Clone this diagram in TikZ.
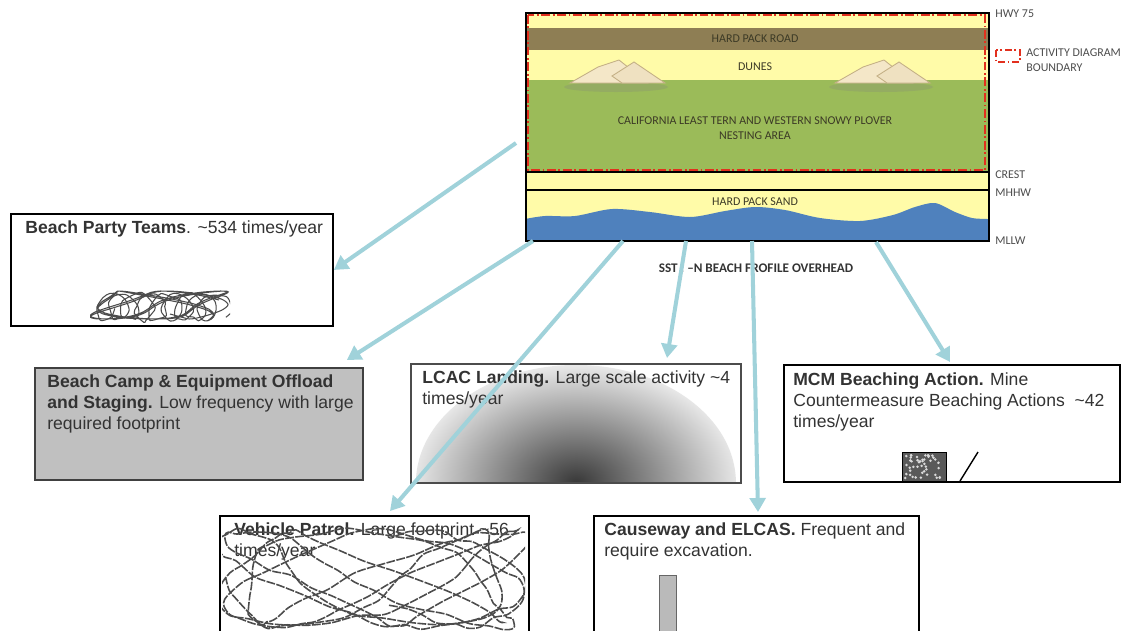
\documentclass[tikz,border=0pt]{standalone}
\usepackage{fontspec}
\setmainfont{Liberation Sans}
\newfontfamily\profilefont{Carlito}
\usetikzlibrary{arrows.meta}

\begin{document}
\begin{tikzpicture}[x=0.02cm, y=-0.02cm]
\definecolor{sandYellow}{RGB}{255, 251, 168}
			\definecolor{roadBrown}{RGB}{142, 126, 84}
			\definecolor{nestGreen}{RGB}{155, 187, 89}
			\definecolor{waterBlue}{RGB}{79, 129, 189}
			\definecolor{boundaryRed}{RGB}{226, 48, 30}
			\definecolor{arrowTeal}{RGB}{160, 210, 218}
			\definecolor{duneSand}{RGB}{244, 231, 200}
			\definecolor{duneEdge}{RGB}{196, 176, 134}
			\definecolor{profileText}{RGB}{60, 58, 38}
			\definecolor{campGray}{RGB}{192, 192, 192}
			\tikzstyle{actbox}=[rectangle, draw, line width=1.1pt, fill=white, anchor=north west, inner sep=0pt]
			\tikzstyle{acttext}=[anchor=north west, align=left, inner sep=0pt, text=black!80, font=\fontsize{10}{12}\selectfont]
			\tikzstyle{layertext}=[align=center, inner sep=0pt, text=profileText, font=\profilefont\fontsize{6.8}{8.5}\selectfont]
			\tikzstyle{sidetext}=[anchor=west, align=left, inner sep=0pt, text=black!70, font=\profilefont\fontsize{6.8}{8.5}\selectfont]
			\tikzstyle{scribble}=[black!70, line width=0.6pt]
			\tikzstyle{flow}=[-{Triangle[length=8pt, width=9pt]}, line width=2.3pt, color=arrowTeal]

			\useasboundingbox (0,0) rectangle (1125,630);
			\clip (0,0) rectangle (1125,630);
			\pgfmathsetseed{11}

			\fill[sandYellow] (525,12) rectangle (988,240);
			\fill[roadBrown] (525,28) rectangle (988,50);
			\fill[nestGreen] (525,80) rectangle (988,172);
			\foreach \dx in {0,265} {
				\fill[gray!40!nestGreen, opacity=0.6] (\dx+616,87) ellipse (52 and 5);
				\filldraw[fill=duneSand, draw=duneEdge, line width=0.5pt] (\dx+570,83) -- (\dx+598,67) -- (\dx+619,60) -- (\dx+648,83) -- cycle;
				\filldraw[fill=duneSand!90!duneEdge, draw=duneEdge, line width=0.5pt] (\dx+612,76) -- (\dx+634,62) -- (\dx+665,83) -- (\dx+622,83) -- cycle;
			}
			\fill[waterBlue] plot[smooth] coordinates {(525,219) (545,216) (575,216) (612,209) (650,212) (690,217) (725,211) (755,207) (785,210) (820,218) (860,221) (893,215) (915,207) (935,203) (955,212) (972,218) (988,219)} -- (988,240) -- (525,240) -- cycle;
			\draw[line width=0.8pt] (525,172) -- (988,172);
			\draw[line width=0.8pt] (525,190) -- (988,190);
			\draw[boundaryRed, line width=1.2pt, dash pattern=on 5pt off 1.5pt on 1pt off 1.5pt] (528,15) rectangle (985,170);
			\node[rectangle, draw, line width=1pt, anchor=north west, inner sep=0pt, minimum width=9.26cm, minimum height=4.56cm] (profile) at (525,12) {};

			\node[layertext] (road) at (755,39) {HARD PACK ROAD};
			\node[layertext] (dunes) at (755,67) {DUNES};
			\node[layertext] (nesting) at (755,128) {CALIFORNIA LEAST TERN AND WESTERN SNOWY PLOVER\\NESTING AREA};
			\node[layertext] (hardsand) at (755,202) {HARD PACK SAND};
			\node[sidetext] (hwy) at (995,14) {HWY 75};
			\draw[boundaryRed, line width=1pt, dash pattern=on 4pt off 1.5pt on 1pt off 1.5pt] (996,50) rectangle (1020,62);
			\node[sidetext] (legend) at (1026,60) {ACTIVITY DIAGRAM\\BOUNDARY};
			\node[sidetext] (crest) at (995,175) {CREST};
			\node[sidetext] (mhhw) at (995,193) {MHHW};
			\node[sidetext] (mllw) at (995,241) {MLLW};
			\node[layertext, text=black!80, font=\profilefont\bfseries\fontsize{7.5}{9}\selectfont] (caption) at (756,268) {SST : –N BEACH FROFILE OVERHEAD};

			\node[actbox, minimum width=6.44cm, minimum height=2.24cm] (party) at (10,213) {};
			\node[acttext] (partytext) at (25,220) {\textbf{Beach Party Teams}. \textasciitilde534 times/year};
			\begin{scope}
				\clip (90,287) rectangle (230,323);
				\draw[scribble] plot[smooth, domain=0:1, samples=90] ({100+118*\x+13*cos(3300*\x)+5*rnd}, {305+13*sin(3300*\x)+5*rnd});
				\draw[scribble] plot[smooth, domain=0:1, samples=90] ({160+60*sin(1500*\x)+10*cos(5000*\x)}, {305+14*sin(2100*\x+40)});
			\end{scope}

			\node[actbox, fill=campGray, draw=black!75, minimum width=6.56cm, minimum height=2.24cm] (camp) at (34,367) {};
			\node[acttext] (camptext) at (47,374) {\textbf{Beach Camp \& Equipment Offload}\\\textbf{and Staging.} Low frequency with large\\required footprint};

			\node[actbox, draw=black!70, minimum width=6.6cm, minimum height=2.38cm, path picture={
				\shade[inner color=black!78, outer color=black!8] (path picture bounding box.south) ellipse (160 and 118);
			}] (lcac) at (410,363) {};
			\node[acttext] (lcactext) at (422,370) {\textbf{LCAC Landing.} Large scale activity \textasciitilde4\\times/year};

			\node[actbox, minimum width=6.72cm, minimum height=2.34cm] (mcm) at (783,364) {};
			\node[acttext] (mcmtext) at (793,372) {\textbf{MCM Beaching Action.} Mine\\Countermeasure Beaching Actions \ \textasciitilde42\\times/year};
			\filldraw[fill=black!65, draw=black] (902,452) rectangle (946,481);
			\foreach \i in {1,...,45}
				\fill[white!85!black] ({905+38*rnd},{455+23*rnd}) circle (1.4);
			\draw[line width=0.8pt] (960,481) -- (978,452);

			\node[actbox, minimum width=6.18cm, minimum height=2.6cm] (patrol) at (219,515) {};
			\node[acttext] (patroltext) at (234,522) {\textbf{Vehicle Patrol.} Large footprint \textasciitilde56\\times/year};
			\begin{scope}
				\clip (222,518) rectangle (525,640);
				\draw[scribble, line width=0.9pt, dash pattern=on 5pt off 0.8pt] plot[smooth, domain=0:1, samples=150] ({375+138*sin(1260*\x)+14*cos(4300*\x)}, {576+48*sin(1710*\x+30)+6*rnd});
				\draw[scribble, line width=0.9pt, dash pattern=on 5pt off 0.8pt] plot[smooth, domain=0:1, samples=110] ({370+140*cos(900*\x+20)+20*sin(3100*\x)}, {575+47*cos(1530*\x)+6*rnd});
			\end{scope}

			\node[actbox, minimum width=6.5cm, minimum height=2.6cm] (causeway) at (593,515) {};
			\node[acttext] (causewaytext) at (604,522) {\textbf{Causeway and ELCAS.} Frequent and\\require excavation.};
			\filldraw[fill=black!27, draw=black!60] (659,575) rectangle (676,640);

			\coordinate (p1) at (516,143);
			\coordinate (p2) at (533,241);
			\coordinate (p3) at (623,241);
			\coordinate (p4) at (686,241);
			\coordinate (p5) at (752,241);
			\coordinate (p6) at (876,242);
			\draw[flow] (p1) -- (party.east);
			\draw[flow] (p2) -- ([shift={(-17,-7)}]camp.north east);
			\draw[flow] (p3) -- ([shift={(171,-4)}]patrol.north west);
			\draw[flow] (p4) -- ([shift={(257,-5)}]lcac.north west);
			\draw[flow] (p5) -- ([shift={(165,-3)}]causeway.north west);
			\draw[flow] (p6) -- ([shift={(167,-2)}]mcm.north west);
		\end{tikzpicture}
\end{document}
